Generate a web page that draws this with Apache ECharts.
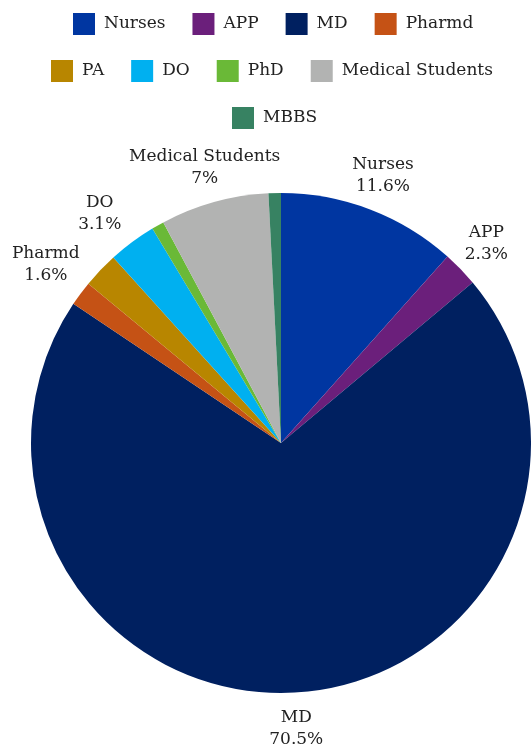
<!DOCTYPE html>
<html>
<head>
<meta charset="utf-8">
<script src="https://cdn.jsdelivr.net/npm/echarts@6/dist/echarts.min.js"></script>
<style>
html,body{margin:0;padding:0;background:#fff;}
#chart{width:531px;height:745px;}
</style>
</head>
<body>
<div id="chart"></div>
<script>
var categories = ['Nurses', 'APP', 'MD', 'Pharmd', 'PA', 'DO', 'PhD', 'Medical Students', 'MBBS'];
var values = [11.6, 2.3, 70.5, 1.6, 2.3, 3.1, 0.8, 7, 0.8];
var colors = ['#0036a1', '#6b1f7b', '#002060', '#c55215', '#b88600', '#00b0f0', '#6ab937', '#b2b3b2', '#378262'];
var labelShown = [true, true, true, true, false, true, false, true, false];
var legendRows = [
  ['Nurses', 'APP', 'MD', 'Pharmd'],
  ['PA', 'DO', 'PhD', 'Medical Students'],
  ['MBBS']
];

var font = 'DejaVu Serif';
var legendLeft = [73, 51, 232];
var labelNudge = { 'Pharmd': [-6, -7], 'DO': [-11, 0] };

var chart = echarts.init(document.getElementById('chart'));

var pieData = categories.map(function (c, i) {
  return { name: c, value: values[i], itemStyle: { color: colors[i] } };
});
var labelData = categories.map(function (c, i) {
  var lbl = { show: labelShown[i] };
  if (labelNudge[c]) lbl.offset = labelNudge[c];
  return { name: c, value: values[i], label: lbl };
});

var legends = legendRows.map(function (row, r) {
  return {
    top: 13 + r * 47,
    left: legendLeft[r],
    padding: 0,
    icon: 'rect',
    itemWidth: 22,
    itemHeight: 22,
    itemGap: 27,
    textStyle: { fontFamily: font, fontSize: 17, color: '#222', padding: [0, 3, 0, 4] },
    data: row
  };
});

chart.setOption({
  animation: false,
  color: colors,
  legend: legends,
  series: [
    {
      type: 'pie',
      center: [281, 443],
      radius: [0, 250],
      startAngle: 90,
      clockwise: true,
      label: { show: false },
      labelLine: { show: false },
      itemStyle: { borderWidth: 0 },
      data: pieData
    },
    {
      type: 'pie',
      center: [281, 443],
      radius: [250, 316],
      startAngle: 90,
      clockwise: true,
      silent: true,
      itemStyle: { color: 'rgba(0,0,0,0)' },
      label: {
        show: true,
        position: 'inside',
        formatter: '{b}\n{c}%',
        fontFamily: font,
        fontSize: 17,
        lineHeight: 22,
        color: '#222',
        align: 'center'
      },
      labelLine: { show: false },
      data: labelData
    }
  ]
});
</script>
</body>
</html>
